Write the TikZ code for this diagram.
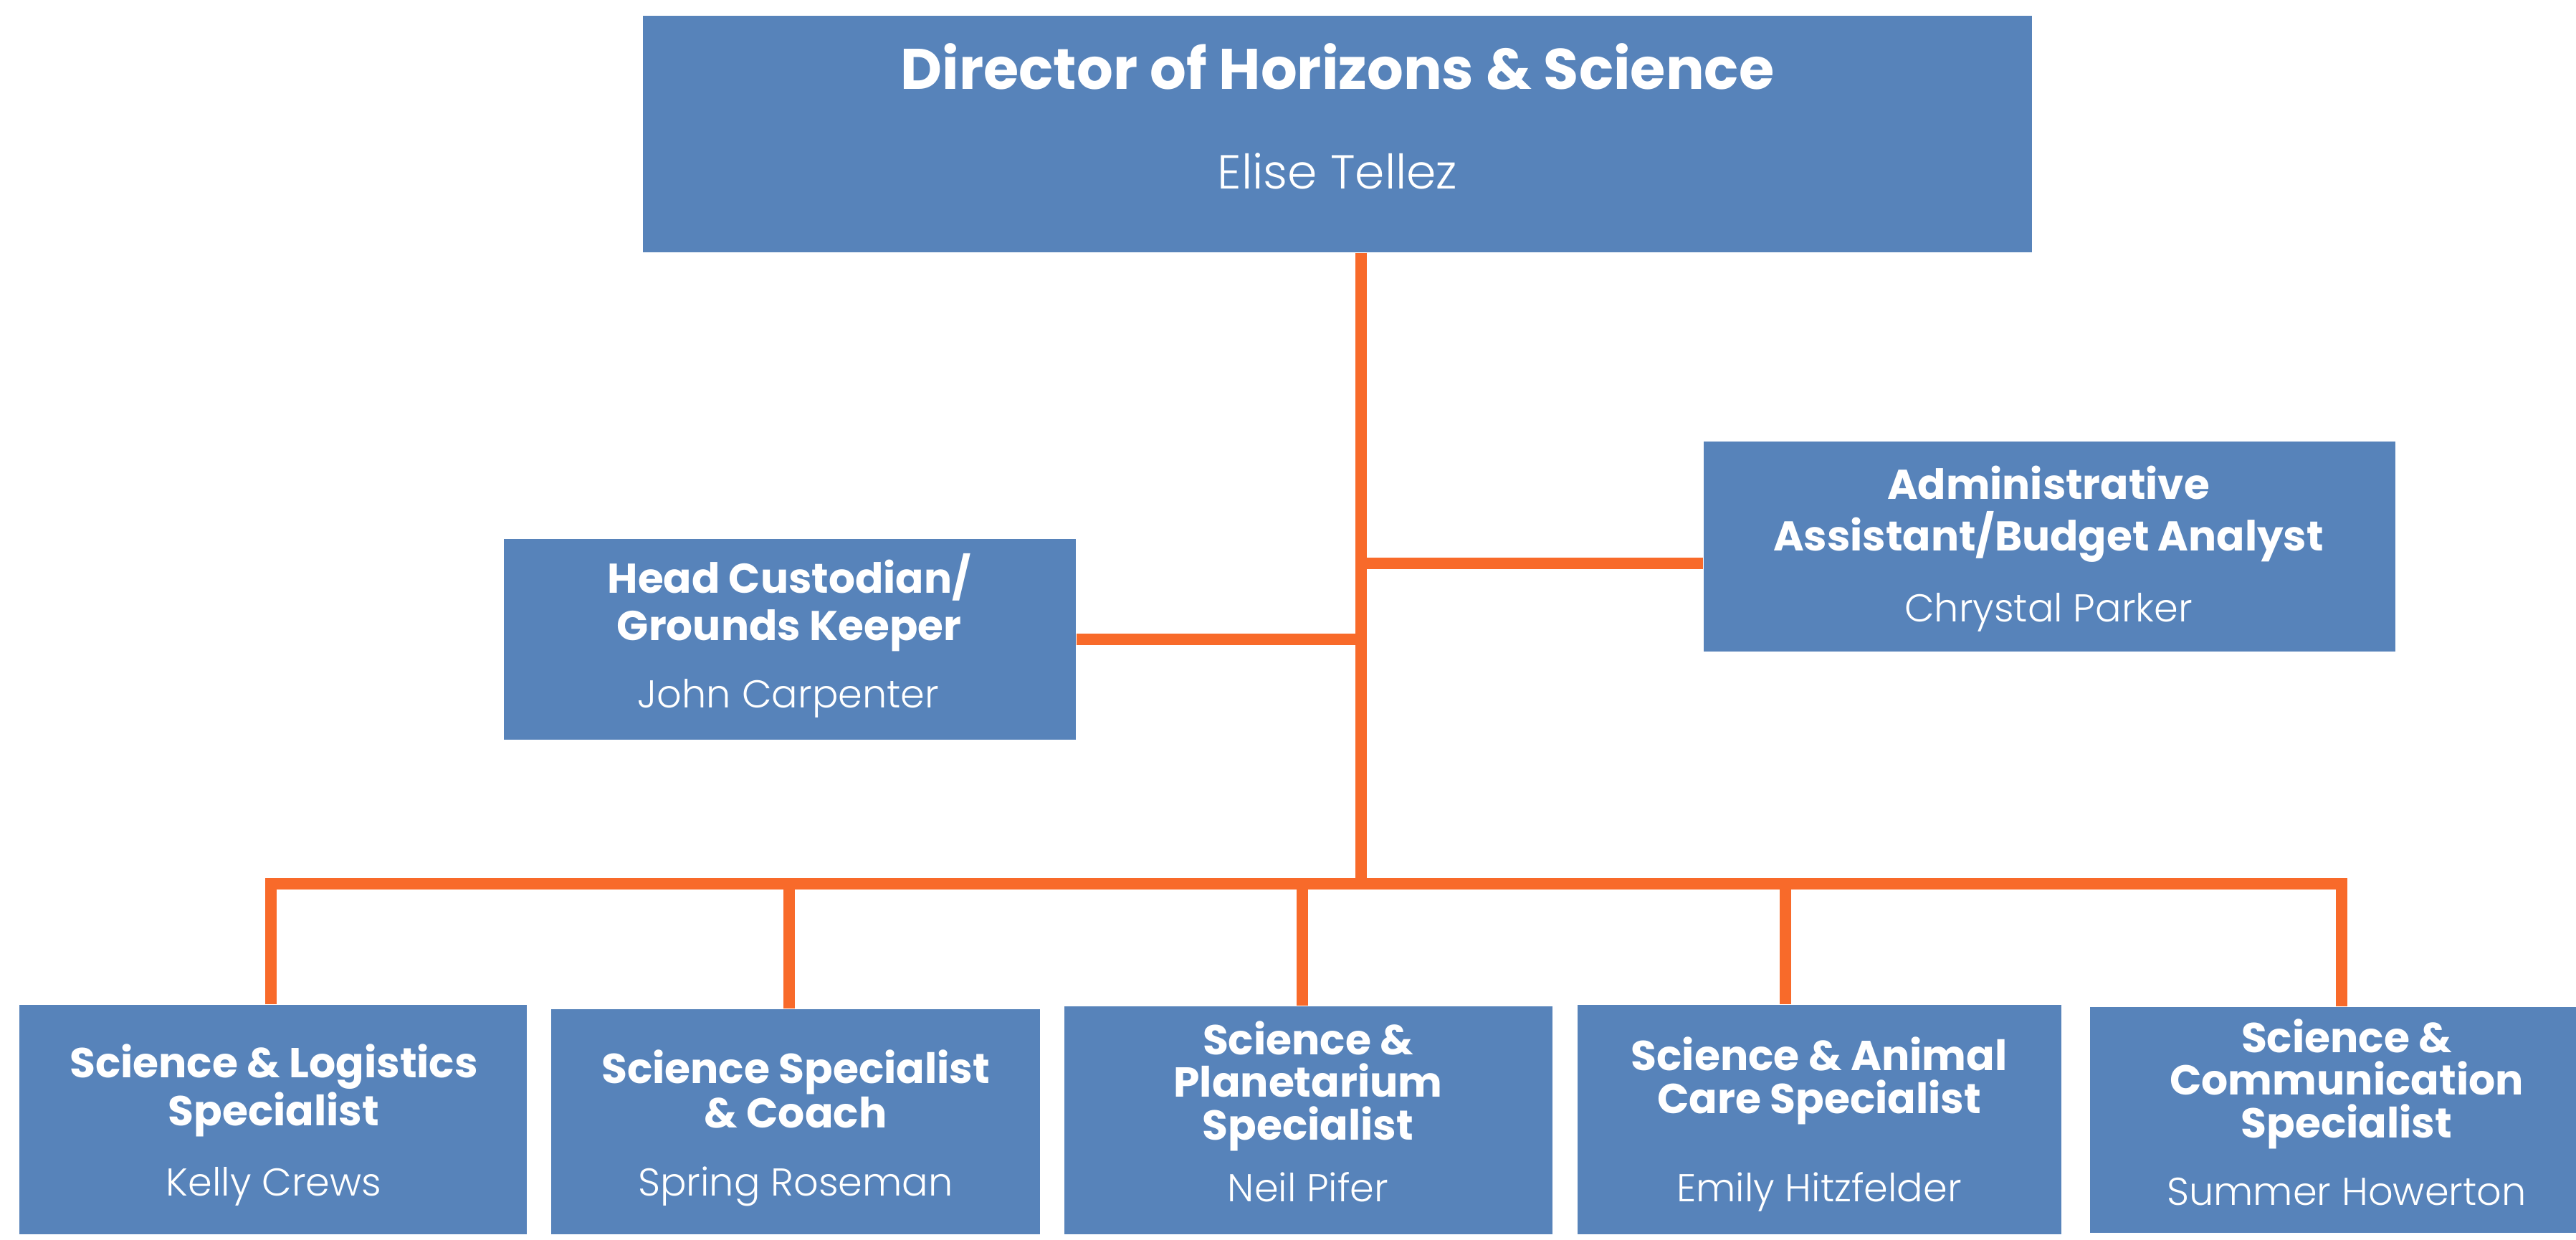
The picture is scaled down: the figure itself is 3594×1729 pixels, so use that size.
\documentclass[tikz,border=0pt]{standalone}
\usepackage{fontspec}
\setmainfont{Poppins}
\newfontfamily\namefont{Poppins Light}
\usepackage{xcolor}

\definecolor{boxblue}{HTML}{5783BA}
\definecolor{linkorange}{HTML}{F86A2A}

\tikzset{
  box/.style={fill=boxblue, anchor=north west, inner sep=0pt},
  ttl/.style={text=white, align=center, anchor=base, inner sep=0pt,
    font=\bfseries\fontsize{16.6}{16.8}\selectfont},
  nm/.style={text=white, anchor=base, inner sep=0pt,
    font=\namefont\fontsize{15.4}{18}\selectfont},
  link/.style={draw=linkorange, line width=4.55pt},
}

\begin{document}
\begin{tikzpicture}[x=0.01cm, y=-0.01cm]
\useasboundingbox (0,0) rectangle (3594,1729);

% boxes
\node[box, minimum width=19.37cm, minimum height=3.30cm] (dir) at (896,21) {};
\node[box, minimum width=7.98cm, minimum height=2.80cm] (cust) at (702,751) {};
\node[box, minimum width=9.65cm, minimum height=2.93cm] (admin) at (2376,615) {};
\node[box, minimum width=7.08cm, minimum height=3.20cm] (b1) at (26,1401) {};
\node[box, minimum width=6.82cm, minimum height=3.14cm] (b2) at (768,1407) {};
\node[box, minimum width=6.81cm, minimum height=3.18cm] (b3) at (1484,1403) {};
\node[box, minimum width=6.75cm, minimum height=3.20cm] (b4) at (2200,1401) {};
\node[box, minimum width=6.79cm, minimum height=3.15cm] (b5) at (2915,1404) {};

% texts (base = last line)
\node[ttl, font=\bfseries\fontsize{22.7}{23}\selectfont] (dirt) at (1866,124) {Director of Horizons \& Science};
\node[nm, font=\namefont\fontsize{18.9}{20}\selectfont] (dirn) at (1866,263) {Elise Tellez};
\node[ttl, font=\bfseries\fontsize{16.5}{18.5}\selectfont] (custt) at (1101,893) {Head Custodian/\\Grounds Keeper};
\node[nm] (custn) at (1100,987) {John Carpenter};
\node[ttl, font=\bfseries\fontsize{16.5}{20.2}\selectfont] (admint) at (2858,768) {Administrative\\Assistant/Budget Analyst};
\node[nm] (adminn) at (2858,867) {Chrystal Parker};
\node[ttl] (b1t) at (382,1570) {Science \& Logistics\\Specialist};
\node[nm] (b1n) at (382,1668) {Kelly Crews};
\node[ttl, font=\bfseries\fontsize{16.6}{17.6}\selectfont] (b2t) at (1110,1573) {Science Specialist\\\& Coach};
\node[nm] (b2n) at (1110,1668) {Spring Roseman};
\node[ttl] (b3t) at (1825,1590) {Science \&\\Planetarium\\Specialist};
\node[nm] (b3n) at (1825,1676) {Neil Pifer};
\node[ttl] (b4t) at (2538,1553) {Science \& Animal\\Care Specialist};
\node[nm] (b4n) at (2538,1676) {Emily Hitzfelder};
\node[ttl] (b5t) at (3274,1587) {Science \&\\Communication\\Specialist};
\node[nm] (b5n) at (3274,1681) {Summer Howerton};

% connectors
\coordinate (trunk) at (1899,1233);
\coordinate (adminlink) at (2376,786);
\coordinate (bus1) at (378,1233);
\coordinate (bus2) at (1101,1233);
\coordinate (bus3) at (1817,1233);
\coordinate (bus4) at (2491,1233);
\coordinate (bus5) at (3267,1233);
\draw[link] (dir.south -| trunk) -- (trunk);
\draw[link] (cust.east) -- (cust.east -| trunk);
\draw[link] (trunk |- adminlink) -- (adminlink);
\draw[link] (b1.north -| bus1) -- (bus1) -- (bus5) -- (b5.north -| bus5);
\foreach \i in {2,3,4}
  \draw[link] (bus\i) -- (bus\i |- b\i.north);
\end{tikzpicture}
\end{document}
